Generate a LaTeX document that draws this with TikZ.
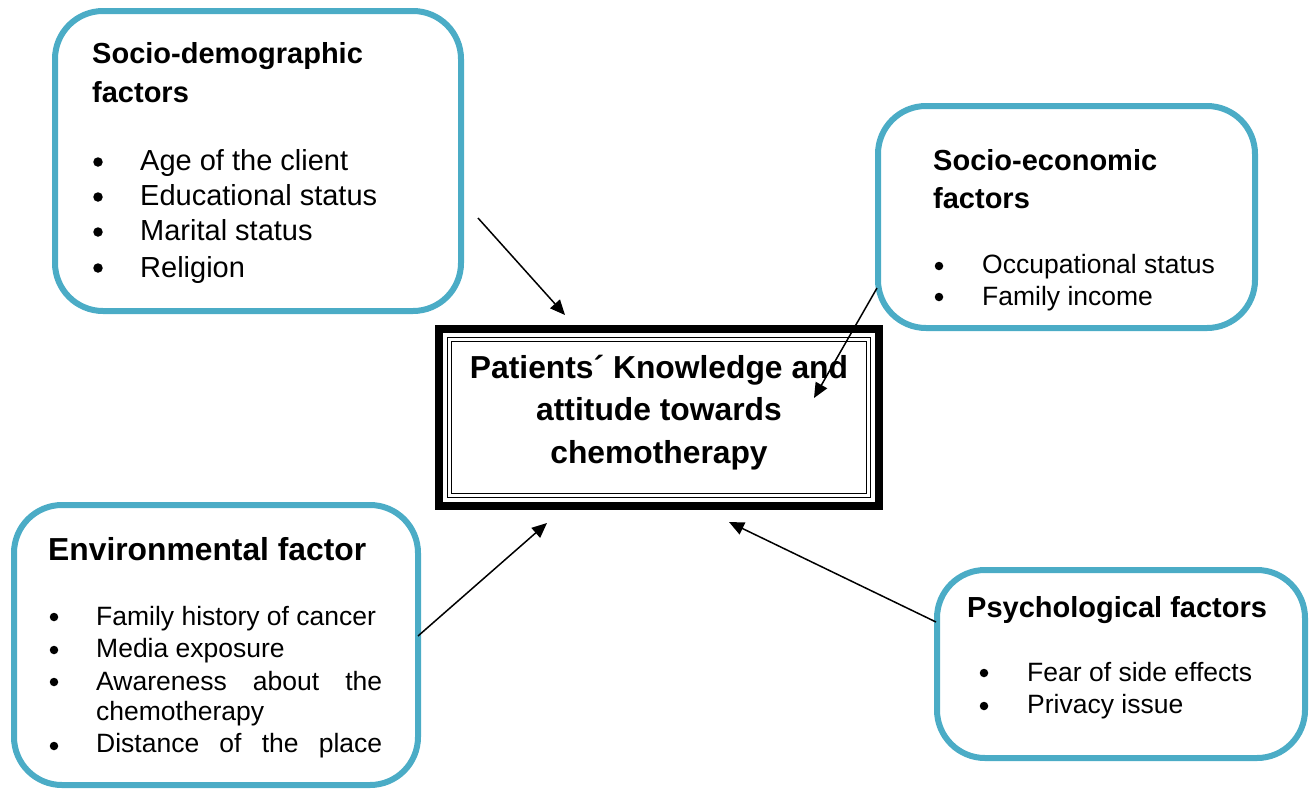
\documentclass[tikz,border=0pt]{standalone}
\usepackage{fontspec}
\setmainfont{Liberation Sans}
\usetikzlibrary{arrows.meta}
\definecolor{frame}{HTML}{4BACC6}
\tikzset{
  rbox/.style={draw=frame, line width=6pt, rounded corners=48pt, anchor=north west, inner sep=0pt, outer sep=0pt},
  ttl/.style={anchor=base west, inner sep=0pt, font=\fontsize{29}{35}\selectfont\bfseries},
  itm/.style={anchor=base west, inner sep=0pt, font=\fontsize{26.5}{32}\selectfont},
  itmb/.style={anchor=base west, inner sep=0pt, font=\fontsize{29}{35}\selectfont},
  bul/.style={circle, fill=black, inner sep=0pt, minimum size=8.5pt},
  bulb/.style={circle, fill=black, inner sep=0pt, minimum size=9.5pt},
  conn/.style={line width=1.5pt, -{Triangle[length=15pt,width=13pt]}}
}
\begin{document}
\begin{tikzpicture}[x=1pt,y=-1pt]
\useasboundingbox (0,0) rectangle (1309,788);
% boxes
\node[rbox, minimum width=406pt, minimum height=300pt] (demo) at (55,11) {};
\node[rbox, minimum width=377pt, minimum height=222pt] (econ) at (878,106) {};
\node[rbox, minimum width=368pt, minimum height=188pt] (psy) at (937,570) {};
\node[rbox, minimum width=404pt, minimum height=280pt] (env) at (14,505) {};
% central box
\node[draw, line width=8pt, anchor=north west, minimum width=440pt, minimum height=177pt, inner sep=0pt, outer sep=0pt] (core) at (439,329) {};
\draw[line width=1.8pt] ([shift={(8.5,8.5)}]core.north west) rectangle ([shift={(-8.5,-8.5)}]core.south east);
\draw[line width=1.2pt] ([shift={(12.3,12.3)}]core.north west) rectangle ([shift={(-12.3,-12.3)}]core.south east);
\node[anchor=base, inner sep=0pt, font=\fontsize{31.8}{42}\selectfont\bfseries] (c1) at (659,378) {Patients´ Knowledge and};
\node[anchor=base, inner sep=0pt, font=\fontsize{31.8}{42}\selectfont\bfseries] (c2) at (659,420) {attitude towards};
\node[anchor=base, inner sep=0pt, font=\fontsize{31.8}{42}\selectfont\bfseries] (c3) at (659,463) {chemotherapy};
% socio-demographic
\node[ttl] (d1) at (92,63) {Socio-demographic};
\node[ttl] (d2) at (92,102) {factors};
\foreach \y/\b/\t [count=\i] in {170/162/Age of the client, 205/197/Educational status, 240/232/Marital status, 277/268/Religion}{
  \node[bulb] (db\i) at (98,\b) {};
  \node[itmb] (dt\i) at (140,\y) {\t};
}
% socio-economic
\node[ttl] (e1) at (933,170) {Socio-economic};
\node[ttl] (e2) at (933,208) {factors};
\foreach \y/\b/\t [count=\i] in {273/266/Occupational status, 305/297/Family income}{
  \node[bul] (eb\i) at (939,\b) {};
  \node[itm] (et\i) at (982,\y) {\t};
}
% psychological
\node[ttl] (p1) at (967,617) {Psychological factors};
\foreach \y/\b/\t [count=\i] in {681/673/Fear of side effects, 713/706/Privacy issue}{
  \node[bul] (pb\i) at (984,\b) {};
  \node[itm] (pt\i) at (1027,\y) {\t};
}
% environmental
\node[ttl, font=\fontsize{31.8}{38}\selectfont\bfseries] (v1) at (48,560) {Environmental factor};
\foreach \b [count=\i] in {617,650,682,746}{
  \node[bul] (vb\i) at (54,\b) {};
}
\node[itm] (vt1) at (96,625) {Family history of cancer};
\node[itm] (vt2) at (96,657) {Media exposure};
\node[itm] (vt3) at (96,690) {\hbox to 286pt{Awareness\hfill about\hfill the}};
\node[itm] (vt4) at (96,720) {chemotherapy};
\node[itm] (vt5) at (96,752) {\hbox to 286pt{Distance\hfill of\hfill the\hfill place}};
% connectors
\coordinate (s1) at (478,218); \coordinate (t1) at (565,315);
\coordinate (s2) at (877,288); \coordinate (t2) at (814,398);
\coordinate (s3) at (418,636); \coordinate (t3) at (547,523);
\coordinate (s4) at (936,622); \coordinate (t4) at (729,522);
\draw[conn] (s1) -- (t1);
\draw[conn] (s2) -- (t2);
\draw[conn] (s3) -- (t3);
\draw[conn] (s4) -- (t4);
\end{tikzpicture}
\end{document}
